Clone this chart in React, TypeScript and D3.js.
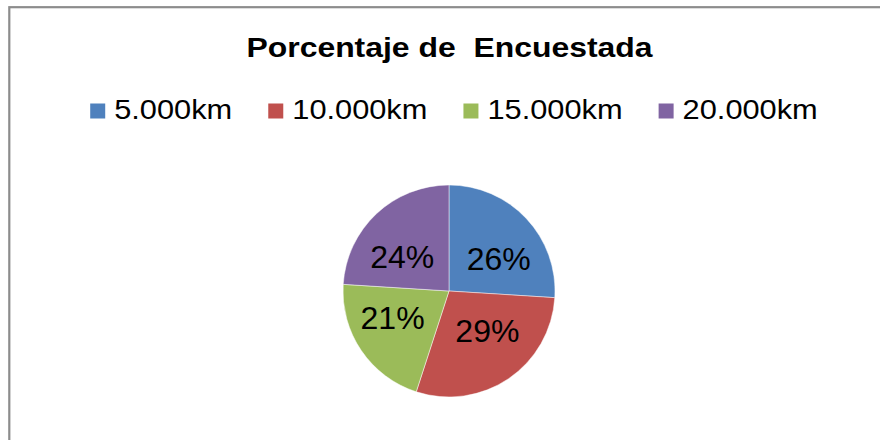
import React from "react";
import * as d3 from "d3";

const categories = ["5.000km", "10.000km", "15.000km", "20.000km"];
const values = [26, 29, 21, 24];
const colors = ["#4F81BD", "#C0504D", "#9BBB59", "#8064A2"];
const title = "Porcentaje de\u00a0 Encuestada";

const width = 880;
const height = 440;
const stretch = 1.14; // the text in the picture is a bit wider than Arial

const measure = (text: string, font: string) => {
  const ctx = document.createElement("canvas").getContext("2d");
  if (!ctx) return text.length * 15;
  ctx.font = font;
  return ctx.measureText(text).width;
};

export default function App() {
  const cx = 449;
  const cy = 291;
  const radius = 106;

  const pie = d3
    .pie<number>()
    .sort(null)
    .value((d) => d);
  const arcs = pie(values);
  const arc = d3.arc<d3.PieArcDatum<number>>().innerRadius(0).outerRadius(radius);
  const labelArc = d3
    .arc<d3.PieArcDatum<number>>()
    .innerRadius(radius * 0.56)
    .outerRadius(radius * 0.56);

  // legend layout
  const legendFont = 27;
  const box = 15;
  const boxGap = 9;
  const itemGap = 36;
  const widths = categories.map(
    (c) => measure(c, `${legendFont}px "Liberation Sans", Arial, sans-serif`) * stretch
  );
  const itemWidths = widths.map((w) => box + boxGap + w);
  const total = d3.sum(itemWidths) + itemGap * (categories.length - 1);
  let x0 = 454 - total / 2;
  const legendX = itemWidths.map((w) => {
    const x = x0;
    x0 += w + itemGap;
    return x;
  });

  return (
    <svg
      width={width}
      height={height}
      style={{ position: "fixed", left: 0, top: 0, background: "#fff" }}
      fontFamily='"Liberation Sans", Arial, sans-serif'
    >
      <rect x={0} y={0} width={width} height={height} fill="#fff" />
      <rect
        x={9.3}
        y={7.2}
        width={width + 40}
        height={height + 40}
        fill="#fff"
        stroke="#8c8c8c"
        strokeWidth={2.2}
      />

      <text
        transform={`translate(449.5,56.7) scale(${stretch},1)`}
        textAnchor="middle"
        fontSize={28}
        fontWeight="bold"
        fill="#000"
      >
        {title}
      </text>

      <g>
        {categories.map((c, i) => (
          <g key={c}>
            <rect x={legendX[i]} y={103.5} width={box} height={box} fill={colors[i]} />
            <text
              transform={`translate(${legendX[i] + box + boxGap},119.3) scale(${stretch},1)`}
              fontSize={legendFont}
              fill="#000"
            >
              {c}
            </text>
          </g>
        ))}
      </g>

      <g transform={`translate(${cx},${cy})`}>
        {arcs.map((a, i) => (
          <path
            key={i}
            d={arc(a) || ""}
            fill={colors[i]}
            stroke="#fff"
            strokeOpacity={0.6}
            strokeWidth={0.8}
          />
        ))}
        {arcs.map((a, i) => {
          // labels sit on a flattened ellipse inside the slices
          const [lx, ly] = labelArc.centroid(a);
          return (
            <text
              key={i}
              x={lx * 1.15}
              y={ly * 0.8}
              dy="0.36em"
              textAnchor="middle"
              fontSize={32}
              fill="#000"
            >
              {`${values[i]}%`}
            </text>
          );
        })}
      </g>
    </svg>
  );
}
